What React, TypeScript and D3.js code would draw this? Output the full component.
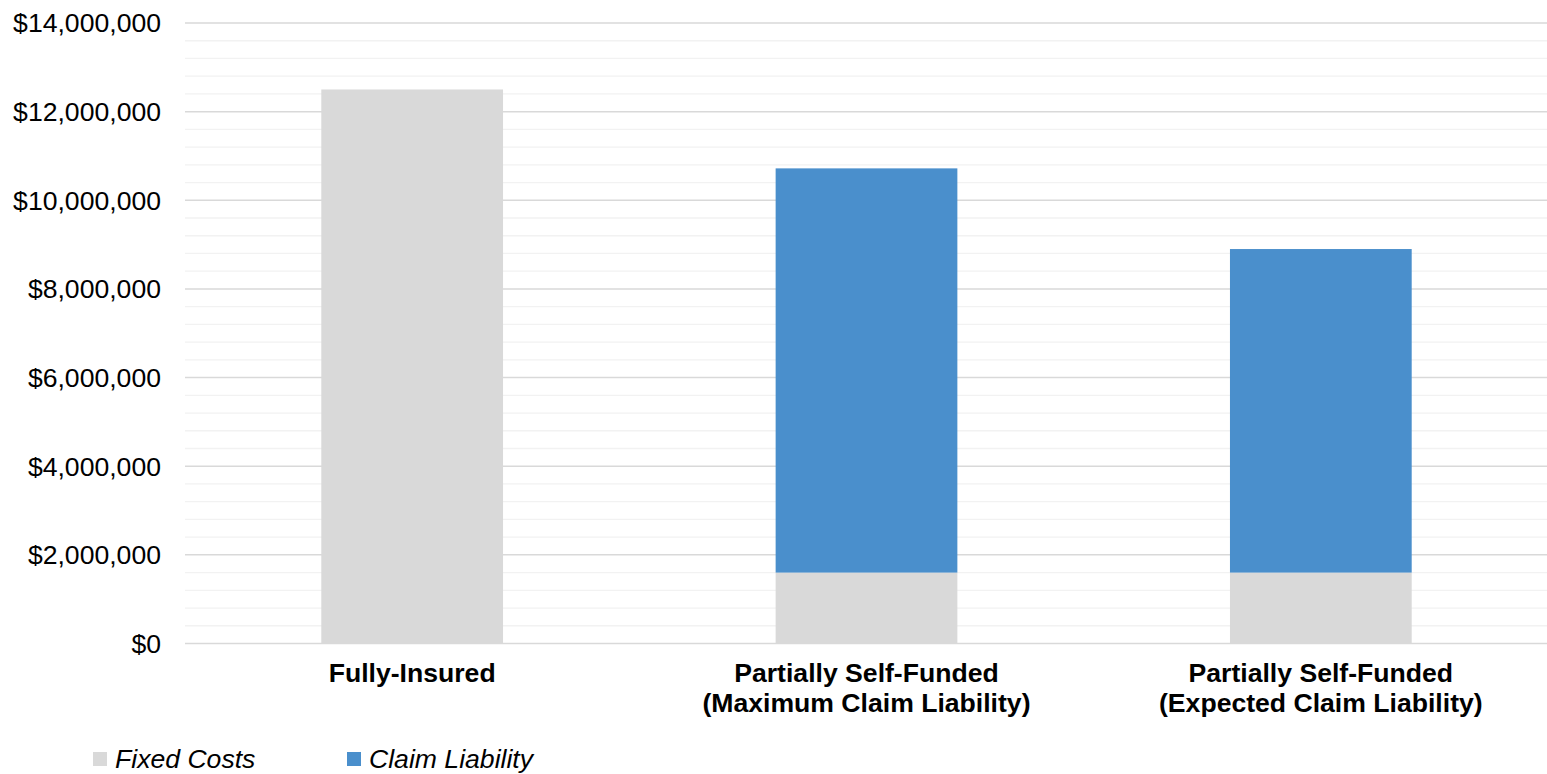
import React from "react";
import * as d3 from "d3";

const categories: string[][] = [
  ["Fully-Insured"],
  ["Partially Self-Funded", "(Maximum Claim Liability)"],
  ["Partially Self-Funded", "(Expected Claim Liability)"],
];
const fixedCosts: number[] = [12500000, 1600000, 1600000];
const claimLiability: number[] = [0, 9120000, 7300000];
const seriesNames: string[] = ["Fixed Costs", "Claim Liability"];
const seriesColors: string[] = ["#d9d9d9", "#4a8fcc"];
const yTicks: number[] = [0, 2000000, 4000000, 6000000, 8000000, 10000000, 12000000, 14000000];

const WIDTH = 1547;
const HEIGHT = 774;
const FONT = "'Liberation Sans', Arial, sans-serif";
const FS = 26.6;

export default function App() {
  const x = d3
    .scaleBand<number>()
    .domain(categories.map((_, i) => i))
    .range([185, 1548])
    .paddingInner(0.6)
    .paddingOuter(0.3);
  const y = d3.scaleLinear().domain([0, 14000000]).range([643.5, 23]);

  const rows = categories.map((_, i) => ({
    idx: i,
    [seriesNames[0]]: fixedCosts[i],
    [seriesNames[1]]: claimLiability[i],
  }));
  const stacked = d3.stack<any>().keys(seriesNames)(rows);

  const minorTicks = d3.range(0, 14000001, 400000).filter((v) => v % 2000000 !== 0);
  const fmt = (v: number) => "$" + d3.format(",")(v);

  return (
    <svg
      width={WIDTH}
      height={HEIGHT}
      style={{ position: "absolute", left: 0, top: 0, background: "#fff" }}
      fontFamily={FONT}
    >
      {/* minor gridlines */}
      {minorTicks.map((v) => (
        <line key={"m" + v} x1={185} x2={WIDTH} y1={y(v)} y2={y(v)} stroke="#f2f2f2" strokeWidth={1.3} />
      ))}
      {/* major gridlines */}
      {yTicks.map((v) => (
        <line key={"M" + v} x1={185} x2={WIDTH} y1={y(v)} y2={y(v)} stroke="#d9d9d9" strokeWidth={1.5} />
      ))}
      {/* stacked bars */}
      {stacked.map((s, si) =>
        s.map((d, i) =>
          d[1] - d[0] > 0 ? (
            <rect
              key={si + "-" + i}
              x={x(i)!}
              width={x.bandwidth()}
              y={y(d[1])}
              height={y(d[0]) - y(d[1])}
              fill={seriesColors[si]}
            />
          ) : null
        )
      )}
      {/* y axis labels */}
      {yTicks.map((v) => (
        <text key={"t" + v} x={161} y={y(v)} dy="0.35em" textAnchor="end" fontSize={FS} fill="#000">
          {fmt(v)}
        </text>
      ))}
      {/* category labels */}
      {categories.map((lines, i) => (
        <text
          key={"c" + i}
          x={x(i)! + x.bandwidth() / 2}
          y={682}
          textAnchor="middle"
          fontSize={FS}
          fontWeight="bold"
          fill="#000"
        >
          {lines.map((l, li) => (
            <tspan key={li} x={x(i)! + x.bandwidth() / 2} dy={li === 0 ? 0 : 30}>
              {l}
            </tspan>
          ))}
        </text>
      ))}
      {/* legend */}
      {seriesNames.map((name, i) => {
        const lx = 93 + i * 254;
        return (
          <g key={"l" + i}>
            <rect x={lx} y={752} width={14} height={14} fill={seriesColors[i]} />
            <text x={lx + 22} y={768} fontSize={FS} fontStyle="italic" fill="#000">
              {name}
            </text>
          </g>
        );
      })}
    </svg>
  );
}
